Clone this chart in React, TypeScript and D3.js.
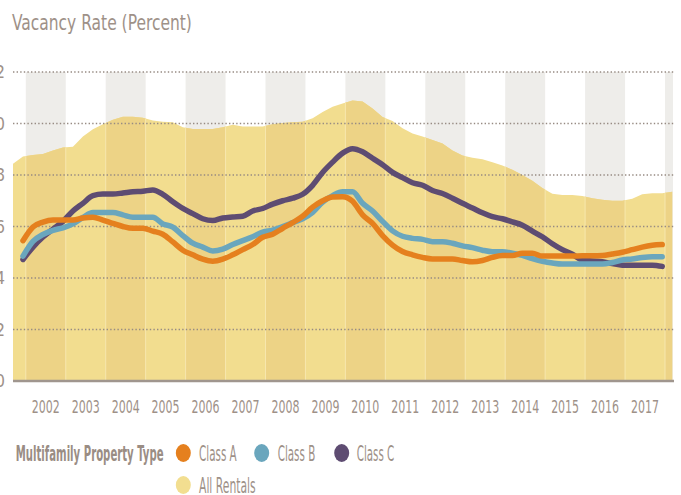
import React, { useLayoutEffect, useRef, useState } from "react";
import * as d3 from "d3";

// ---- data (quarterly) ----
const areaStart = 2001.68; // first quarter position of All Rentals series
const lineStart = 2001.93; // first quarter position of class series
const quarterStep = 0.25;

const allRentals = [
  8.44, 8.72, 8.78, 8.82, 8.95, 9.07, 9.1, 9.5, 9.78, 9.97,
  10.15, 10.26, 10.26, 10.22, 10.12, 10.07, 10.05, 9.85, 9.79, 9.79,
  9.79, 9.85, 9.95, 9.88, 9.88, 9.88, 9.97, 10.02, 10.05, 10.07,
  10.2, 10.45, 10.65, 10.78, 10.89, 10.85, 10.58, 10.25, 10.1, 9.82,
  9.61, 9.5, 9.36, 9.22, 8.95, 8.76, 8.67, 8.61, 8.5, 8.37,
  8.2, 8.0, 7.78, 7.5, 7.27, 7.22, 7.22, 7.18, 7.1, 7.04,
  7.0, 7.0, 7.08, 7.25, 7.29, 7.29, 7.35,
];

const classA = [
  5.45, 5.98, 6.17, 6.25, 6.25, 6.25, 6.33, 6.36, 6.25, 6.12,
  6.0, 5.93, 5.93, 5.82, 5.7, 5.4, 5.08, 4.9, 4.73, 4.65,
  4.73, 4.9, 5.1, 5.3, 5.58, 5.7, 5.93, 6.15, 6.4, 6.75,
  7.0, 7.15, 7.16, 6.98, 6.45, 6.12, 5.65, 5.28, 5.03, 4.9,
  4.8, 4.74, 4.74, 4.74, 4.68, 4.63, 4.68, 4.8, 4.87, 4.87,
  4.96, 4.96, 4.85, 4.85, 4.85, 4.85, 4.86, 4.86, 4.87, 4.93,
  5.0, 5.1, 5.2, 5.27, 5.3,
];

const classB = [
  4.85, 5.42, 5.69, 5.85, 5.95, 6.1, 6.35, 6.54, 6.54, 6.54,
  6.45, 6.36, 6.36, 6.36, 6.1, 5.98, 5.65, 5.35, 5.2, 5.05,
  5.12, 5.3, 5.45, 5.6, 5.78, 5.86, 6.0, 6.15, 6.3, 6.55,
  6.95, 7.2, 7.35, 7.35, 6.9, 6.6, 6.2, 5.83, 5.62, 5.54,
  5.5, 5.41, 5.41, 5.35, 5.25, 5.18, 5.08, 5.02, 5.02, 4.96,
  4.88, 4.75, 4.65, 4.58, 4.54, 4.54, 4.54, 4.54, 4.54, 4.6,
  4.7, 4.74, 4.8, 4.83, 4.83,
];

const classC = [
  4.72, 5.2, 5.59, 5.9, 6.2, 6.6, 6.9, 7.2, 7.26, 7.26,
  7.3, 7.35, 7.37, 7.42, 7.25, 6.96, 6.7, 6.5, 6.3, 6.23,
  6.33, 6.37, 6.4, 6.6, 6.7, 6.87, 7.0, 7.1, 7.25, 7.6,
  8.1, 8.5, 8.85, 9.02, 8.9, 8.65, 8.4, 8.1, 7.9, 7.7,
  7.6, 7.4, 7.28, 7.1, 6.9, 6.72, 6.53, 6.38, 6.3, 6.18,
  6.05, 5.82, 5.6, 5.33, 5.1, 4.92, 4.7, 4.66, 4.63, 4.56,
  4.5, 4.5, 4.5, 4.5, 4.45,
];

const years = [2002, 2003, 2004, 2005, 2006, 2007, 2008, 2009, 2010, 2011, 2012, 2013, 2014, 2015, 2016, 2017];
const bandYears = [2001, ...years, 2018];
const yTicks = [2, 4, 6, 8, 10, 12];
const yLabels = ["0", "2", "4", "6", "8", "10", "12"];

const title = "Vacancy Rate (Percent)";
const legendTitle = "Multifamily Property Type";
const seriesNames = ["Class A", "Class B", "Class C", "All Rentals"];
const seriesColors = ["#E5801E", "#6AA6BD", "#5E4C72", "#F2DE90"];

const W = 681;
const H = 495;
const FONT = "'Liberation Sans Narrow', 'DejaVu Sans Condensed', 'Arial Narrow', sans-serif";
const TEXT = "#9E9188";

// Text squeezed horizontally to a target width (condensed look), measured in the browser.
function FitText(props: {
  x: number;
  y: number;
  width: number;
  fontSize: number;
  fill: string;
  fontWeight?: string;
  children: string;
}) {
  const ref = useRef<SVGTextElement>(null);
  const [sx, setSx] = useState(1);
  useLayoutEffect(() => {
    if (ref.current) {
      const natural = ref.current.getComputedTextLength();
      if (natural > 0) setSx(props.width / natural);
    }
  }, [props.width, props.children, props.fontSize]);
  return (
    <text
      ref={ref}
      transform={`translate(${props.x},${props.y}) scale(${sx},1)`}
      fontSize={props.fontSize}
      fontWeight={props.fontWeight}
      fill={props.fill}
    >
      {props.children}
    </text>
  );
}

export default function App() {
  const x = d3.scaleLinear().domain([2001.68, 2018.2]).range([13, 673]);
  const y = d3.scaleLinear().domain([0, 12]).range([381, 72]);

  const areaData = allRentals.map((v, i) => ({ t: areaStart + i * quarterStep, v }));
  const toLine = (arr: number[]) => arr.map((v, i) => ({ t: lineStart + i * quarterStep, v }));

  const areaGen = d3
    .area<{ t: number; v: number }>()
    .x((d) => x(d.t))
    .y0(y(0))
    .y1((d) => y(d.v));
  const lineGen = d3
    .line<{ t: number; v: number }>()
    .x((d) => x(d.t))
    .y((d) => y(d.v))
    .curve(d3.curveMonotoneX);

  const areaPath = areaGen(areaData) || "";
  const x0 = x.range()[0];
  const x1 = x.range()[1];

  const lines = [
    { data: classC, color: seriesColors[2] },
    { data: classB, color: seriesColors[1] },
    { data: classA, color: seriesColors[0] },
  ];

  const legendItems = [
    { name: seriesNames[0], color: seriesColors[0], cx: 183.3, tx: 199, w: 37.7, row: 0 },
    { name: seriesNames[1], color: seriesColors[1], cx: 261.7, tx: 277.7, w: 37.6, row: 0 },
    { name: seriesNames[2], color: seriesColors[2], cx: 341.7, tx: 356.7, w: 37.6, row: 0 },
    { name: seriesNames[3], color: seriesColors[3], cx: 183.3, tx: 199, w: 56.7, row: 1 },
  ];

  return (
    <svg
      width={W}
      height={H}
      style={{ position: "absolute", left: 0, top: 0, background: "#fff" }}
      fontFamily={FONT}
    >
      <defs>
        <clipPath id="areaClip">
          <path d={areaPath} />
        </clipPath>
      </defs>

      <FitText x={12} y={30} width={180} fontSize={22} fill={TEXT}>
        {title}
      </FitText>

      {/* grey year bands */}
      {bandYears.map((yr, i) =>
        i % 2 === 1 ? (
          <rect
            key={"b" + yr}
            x={Math.max(x0, x(yr))}
            y={y(12)}
            width={Math.min(x1, x(yr + 1)) - Math.max(x0, x(yr))}
            height={y(0) - y(12)}
            fill="#EEEDEA"
          />
        ) : null
      )}

      {/* all rentals area */}
      <path d={areaPath} fill="#F2DD8F" />
      <g clipPath="url(#areaClip)">
        {bandYears.map((yr, i) =>
          i % 2 === 1 ? (
            <rect
              key={"d" + yr}
              x={Math.max(x0, x(yr))}
              y={y(12)}
              width={Math.min(x1, x(yr + 1)) - Math.max(x0, x(yr))}
              height={y(0) - y(12)}
              fill="#EDD386"
            />
          ) : null
        )}
        {bandYears.slice(1).map((yr) => (
          <line
            key={"s" + yr}
            x1={x(yr)}
            x2={x(yr)}
            y1={y(12)}
            y2={y(0)}
            stroke="#F7E7AE"
            strokeWidth={1}
          />
        ))}
      </g>

      {/* gridlines */}
      {yTicks.map((t) => (
        <line
          key={"g" + t}
          x1={x0}
          x2={x1 + 1}
          y1={y(t)}
          y2={y(t)}
          stroke="#978B83"
          strokeWidth={1.4}
          strokeDasharray="1.4 2.2"
        />
      ))}

      {/* y labels (cut off at the left edge, as in the original) */}
      {yLabels.map((lab, i) => (
        <text key={"yl" + lab} x={5} y={y(i * 2)} dy="0.36em" textAnchor="end" fontSize={17} fill={TEXT}>
          {lab}
        </text>
      ))}

      {/* series lines */}
      {lines.map((l, i) => (
        <path
          key={"l" + i}
          d={lineGen(toLine(l.data)) || ""}
          fill="none"
          stroke={l.color}
          strokeWidth={5.5}
          strokeLinecap="round"
          strokeLinejoin="round"
        />
      ))}

      {/* baseline */}
      <line x1={x0} x2={x1 + 1} y1={y(0)} y2={y(0)} stroke="#A0968E" strokeWidth={2.6} />

      {/* x labels */}
      {years.map((yr) => (
        <FitText key={"xl" + yr} x={x(yr + 0.5) - 14} y={413} width={28} fontSize={18} fill={TEXT}>
          {String(yr)}
        </FitText>
      ))}

      {/* legend */}
      <FitText x={15.7} y={461} width={148} fontSize={21} fontWeight="bold" fill="#9A8D84">
        {legendTitle}
      </FitText>
      {legendItems.map((it) => (
        <g key={"lg" + it.name}>
          <ellipse cx={it.cx} cy={453 + it.row * 32} rx={7.5} ry={9} fill={it.color} />
          <FitText x={it.tx} y={461 + it.row * 32} width={it.w} fontSize={21} fill={TEXT}>
            {it.name}
          </FitText>
        </g>
      ))}
    </svg>
  );
}
